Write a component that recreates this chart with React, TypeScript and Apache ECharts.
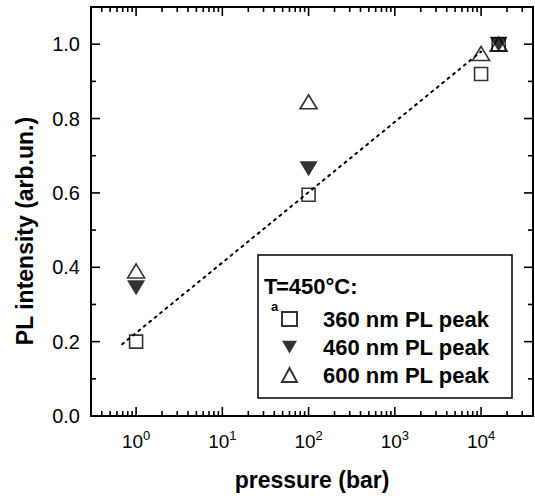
import React, { useEffect, useRef } from 'react';
import * as echarts from 'echarts';

// ---- data ----
const seriesNames = ['360 nm PL peak', '460 nm PL peak', '600 nm PL peak'];
const pressure360 = [1, 100, 10000, 16000];
const values360 = [0.2, 0.595, 0.92, 1.0];
const pressure460 = [1, 100, 16000];
const values460 = [0.345, 0.665, 1.0];
const pressure600 = [1, 100, 10000, 16000];
const values600 = [0.39, 0.845, 0.975, 1.0];
const fitPressure = [0.69, 10000];
const fitValues = [0.193, 0.98];

const xRange = [0.3, 40000];
const yRange = [0, 1.1];
const xMajorPressure = [1, 10, 100, 1000, 10000];
const xMinorPressure = [
  0.4, 0.5, 0.6, 0.7, 0.8, 0.9,
  2, 3, 4, 5, 6, 7, 8, 9,
  20, 30, 40, 50, 60, 70, 80, 90,
  200, 300, 400, 500, 600, 700, 800, 900,
  2000, 3000, 4000, 5000, 6000, 7000, 8000, 9000,
  20000, 30000,
];
const yMajorTicks = [0, 0.2, 0.4, 0.6, 0.8, 1.0];
const yMinorTicks = [0.1, 0.3, 0.5, 0.7, 0.9];

const FONT = "'Liberation Sans', Arial, Helvetica, sans-serif";
const lg = (v: number) => Math.log10(v);
const pts = (p: number[], v: number[]) => p.map((x, i) => [lg(x), v[i]]);

// tick marks as thin rectangular symbols placed through the chart's own scales
function tickScatter(anchors: number[][], size: number[], offset: number[]) {
  return {
    type: 'scatter',
    data: anchors,
    symbol: 'rect',
    symbolSize: size,
    symbolOffset: offset,
    clip: false,
    silent: true,
    z: 4,
    itemStyle: { color: '#000', borderWidth: 0, opacity: 1 },
  };
}

export default function App() {
  const ref = useRef<HTMLDivElement>(null);
  useEffect(() => {
    if (!ref.current) return;
    const chart = echarts.init(ref.current, undefined, { renderer: 'svg' });
    const mkLine = () => ({ show: true, onZero: false, lineStyle: { color: '#000', width: 2 } });
    const xMin = lg(xRange[0]);
    const xMax = lg(xRange[1]);
    const xBase = () => ({ type: 'value', min: xMin, max: xMax, splitLine: { show: false }, axisTick: { show: false } });
    const yBase = () => ({ type: 'value', min: yRange[0], max: yRange[1], splitLine: { show: false }, axisTick: { show: false } });
    const xMajor = xMajorPressure.map(lg);
    const xMinor = xMinorPressure.map(lg);
    const MAJ = 9;
    const MIN = 5;
    const TW = 1.6;
    const option: any = {
      animation: false,
      grid: { left: 91, right: 2, top: 7, bottom: 78 },
      xAxis: [
        {
          ...xBase(),
          position: 'bottom',
          axisLine: mkLine(),
          axisLabel: {
            customValues: xMajor,
            margin: 13,
            formatter: (v: number) => `{b|10}{s|${Math.round(v)}}`,
            rich: {
              b: { fontSize: 19, fontFamily: FONT, color: '#000', lineHeight: 22, verticalAlign: 'bottom' },
              s: { fontSize: 13, fontFamily: FONT, color: '#000', lineHeight: 13, verticalAlign: 'top' },
            },
          },
          name: 'pressure (bar)',
          nameLocation: 'middle',
          nameGap: 52,
          nameTextStyle: { fontSize: 23, fontWeight: 'bold', fontFamily: FONT, color: '#000' },
        },
        { ...xBase(), position: 'top', axisLine: mkLine(), axisLabel: { show: false } },
      ],
      yAxis: [
        {
          ...yBase(),
          position: 'left',
          axisLine: mkLine(),
          axisLabel: {
            customValues: yMajorTicks,
            margin: 11,
            formatter: (v: number) => v.toFixed(1),
            fontSize: 20,
            fontFamily: FONT,
            color: '#000',
          },
        },
        { ...yBase(), position: 'right', axisLine: mkLine(), axisLabel: { show: false } },
      ],
      legend: {
        data: seriesNames,
        orient: 'vertical',
        left: 281,
        top: 308,
        padding: 0,
        itemWidth: 15,
        itemHeight: 14,
        itemGap: 6,
        selectedMode: false,
        textStyle: {
          fontSize: 22,
          fontWeight: 'bold',
          fontFamily: FONT,
          color: '#000',
          padding: [0, 0, 0, 21],
        },
      },
      graphic: [
        {
          type: 'rect',
          z: 1,
          shape: { x: 258, y: 255, width: 254, height: 143 },
          style: { fill: '#fff', stroke: '#000', lineWidth: 1.5 },
        },
        {
          type: 'text',
          z: 5,
          x: 264,
          y: 286,
          style: { text: 'T', fontSize: 22, lineHeight: 16, fontWeight: 'bold', fontFamily: FONT, fill: '#000', verticalAlign: 'middle', align: 'left' },
        },
        {
          type: 'text',
          z: 5,
          x: 271,
          y: 306,
          style: { text: 'a', fontSize: 13, lineHeight: 10, fontWeight: 'bold', fontFamily: FONT, fill: '#000', verticalAlign: 'middle', align: 'left' },
        },
        {
          type: 'text',
          z: 5,
          x: 276,
          y: 286,
          style: { text: '=450°C:', fontSize: 22, lineHeight: 16, fontWeight: 'bold', fontFamily: FONT, fill: '#000', verticalAlign: 'middle', align: 'left' },
        },
        {
          type: 'text',
          z: 5,
          x: 25,
          y: 231,
          rotation: Math.PI / 2,
          style: { text: 'PL intensity (arb.un.)', fontSize: 23, fontWeight: 'bold', fontFamily: FONT, fill: '#000', verticalAlign: 'middle', align: 'center' },
        },
      ],
      series: [
        {
          type: 'line',
          name: 'fit',
          data: pts(fitPressure, fitValues),
          symbol: 'none',
          silent: true,
          lineStyle: { color: '#000', width: 2, type: [2, 5], cap: 'round' },
          z: 2,
        },
        {
          type: 'scatter',
          name: seriesNames[0],
          data: pts(pressure360, values360),
          symbol: 'rect',
          symbolSize: 13,
          itemStyle: { color: 'rgba(255,255,255,0)', borderColor: '#000', borderWidth: 1.6 },
          z: 3,
        },
        {
          type: 'scatter',
          name: seriesNames[1],
          data: pts(pressure460, values460),
          symbol: 'path://M0,0L20,0L10,17Z',
          symbolSize: [18, 15],
          itemStyle: { color: '#000', borderColor: '#000', borderWidth: 0 },
          z: 3,
        },
        {
          type: 'scatter',
          name: seriesNames[2],
          data: pts(pressure600, values600),
          symbol: 'triangle',
          symbolSize: [17, 14],
          itemStyle: { color: 'rgba(255,255,255,0)', borderColor: '#000', borderWidth: 1.6 },
          z: 3,
        },
        // bottom / top ticks
        tickScatter(xMajor.map((v) => [v, yRange[0]]), [TW, MAJ], [0, -MAJ / 2]),
        tickScatter(xMinor.map((v) => [v, yRange[0]]), [TW, MIN], [0, -MIN / 2]),
        tickScatter(xMajor.map((v) => [v, yRange[1]]), [TW, MAJ], [0, MAJ / 2]),
        tickScatter(xMinor.map((v) => [v, yRange[1]]), [TW, MIN], [0, MIN / 2]),
        // left / right ticks
        tickScatter(yMajorTicks.map((v) => [xMin, v]), [MAJ, TW], [MAJ / 2, 0]),
        tickScatter(yMinorTicks.map((v) => [xMin, v]), [MIN, TW], [MIN / 2, 0]),
        tickScatter(yMajorTicks.map((v) => [xMax, v]), [MAJ, TW], [-MAJ / 2, 0]),
        tickScatter(yMinorTicks.map((v) => [xMax, v]), [MIN, TW], [-MIN / 2, 0]),
      ],
    };
    chart.setOption(option);
    return () => chart.dispose();
  }, []);
  return (
    <div
      ref={ref}
      style={{ position: 'fixed', left: 0, top: 0, width: 535, height: 496, background: '#fff' }}
    />
  );
}
